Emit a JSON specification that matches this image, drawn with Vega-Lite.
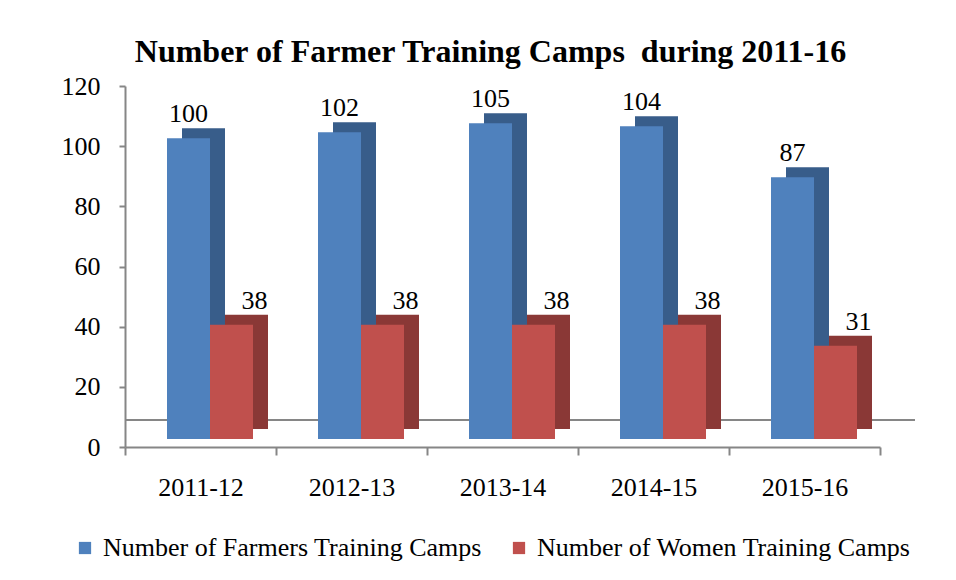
{
  "$schema": "https://vega.github.io/schema/vega-lite/v6.json",
  "width": 755,
  "height": 361,
  "autosize": "none",
  "padding": {"left": 125, "top": 86, "right": 76, "bottom": 133},
  "background": "white",
  "config": {"view": {"stroke": null}, "font": "Liberation Serif"},
  "title": {"text": "Number of Farmer Training Camps\u00a0 during 2011-16", "font": "Liberation Serif", "fontSize": 32, "fontWeight": "bold", "color": "black", "anchor": "middle", "dx": -12, "offset": 4},
  "data": {"values": [
    {"year": "2011-12", "series": "Number of Farmers Training Camps", "value": 100},
    {"year": "2011-12", "series": "Number of Women Training Camps", "value": 38},
    {"year": "2012-13", "series": "Number of Farmers Training Camps", "value": 102},
    {"year": "2012-13", "series": "Number of Women Training Camps", "value": 38},
    {"year": "2013-14", "series": "Number of Farmers Training Camps", "value": 105},
    {"year": "2013-14", "series": "Number of Women Training Camps", "value": 38},
    {"year": "2014-15", "series": "Number of Farmers Training Camps", "value": 104},
    {"year": "2014-15", "series": "Number of Women Training Camps", "value": 38},
    {"year": "2015-16", "series": "Number of Farmers Training Camps", "value": 87},
    {"year": "2015-16", "series": "Number of Women Training Camps", "value": 31}
  ]},
  "layer": [
    {"mark": {"type": "rule", "color": "#868686", "strokeWidth": 2, "yOffset": -27, "y2Offset": -27, "xOffset": 35, "x2Offset": 35},
     "encoding": {"y": {"datum": 0, "type": "quantitative", "scale": {"domain": [0, 120]}}}},
    {"transform": [{"filter": "datum.series === 'Number of Farmers Training Camps'"}],
     "mark": {"type": "bar", "width": 43, "xOffset": 3, "yOffset": -18, "y2Offset": -18, "color": "#385D8A"},
     "encoding": {
       "x": {"field": "year", "type": "nominal", "scale": {"paddingInner": 0, "paddingOuter": 0},
         "axis": {"title": null, "labelAngle": 0, "labelFont": "Liberation Serif", "labelFontSize": 26, "labelColor": "black", "domainColor": "#868686", "domainWidth": 2, "tickColor": "#868686", "tickWidth": 2, "tickSize": 8, "tickBand": "extent", "labelPadding": 19}},
       "y": {"field": "value", "type": "quantitative", "scale": {"domain": [0, 120]},
         "axis": {"title": null, "values": [0, 20, 40, 60, 80, 100, 120], "grid": false, "labelFont": "Liberation Serif", "labelFontSize": 26, "labelColor": "black", "domainColor": "#868686", "domainWidth": 2, "tickColor": "#868686", "tickWidth": 2, "tickSize": 6, "labelPadding": 19}}
     }},
    {"transform": [{"filter": "datum.series === 'Number of Women Training Camps'"}],
     "mark": {"type": "bar", "width": 43, "xOffset": 46, "yOffset": -18, "y2Offset": -18, "color": "#8A3836"},
     "encoding": {"x": {"field": "year", "type": "nominal"}, "y": {"field": "value", "type": "quantitative"}}},
    {"transform": [{"filter": "datum.series === 'Number of Farmers Training Camps'"}],
     "mark": {"type": "bar", "width": 43, "xOffset": -12, "yOffset": -8, "y2Offset": -8},
     "encoding": {"x": {"field": "year", "type": "nominal"}, "y": {"field": "value", "type": "quantitative"},
       "color": {"field": "series", "type": "nominal", "scale": {"domain": ["Number of Farmers Training Camps", "Number of Women Training Camps"], "range": ["#4F81BD", "#C0504D"]},
       "legend": {"orient": "none", "legendX": -53, "legendY": 449, "direction": "horizontal", "title": null, "labelFont": "Liberation Serif", "labelFontSize": 26, "labelColor": "black", "symbolType": "square", "symbolSize": 150, "symbolStrokeWidth": 0, "columnPadding": 24, "labelOffset": 5, "labelLimit": 500}}}},
    {"transform": [{"filter": "datum.series === 'Number of Women Training Camps'"}],
     "mark": {"type": "bar", "width": 43, "xOffset": 31, "yOffset": -8, "y2Offset": -8},
     "encoding": {"x": {"field": "year", "type": "nominal"}, "y": {"field": "value", "type": "quantitative"}, "color": {"field": "series", "type": "nominal"}}},
    {"transform": [{"filter": "datum.series === 'Number of Farmers Training Camps'"}],
     "mark": {"type": "text", "dx": -12, "dy": -24, "baseline": "alphabetic", "fontSize": 26, "font": "Liberation Serif", "color": "black"},
     "encoding": {"x": {"field": "year", "type": "nominal"}, "y": {"field": "value", "type": "quantitative"}, "text": {"field": "value", "type": "quantitative"}}},
    {"transform": [{"filter": "datum.series === 'Number of Women Training Camps'"}],
     "mark": {"type": "text", "dx": 54, "dy": -24, "baseline": "alphabetic", "fontSize": 26, "font": "Liberation Serif", "color": "black"},
     "encoding": {"x": {"field": "year", "type": "nominal"}, "y": {"field": "value", "type": "quantitative"}, "text": {"field": "value", "type": "quantitative"}}}
  ]
}
